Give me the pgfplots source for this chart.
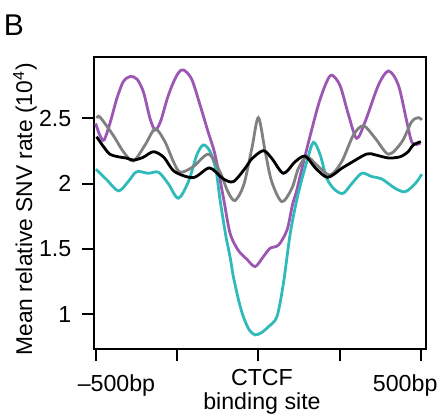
\documentclass[border=0pt]{standalone}
\usepackage{fontspec}
\setmainfont{Liberation Sans}
\usepackage{pgfplots}
\pgfplotsset{compat=1.18}
\definecolor{cpurple}{RGB}{155,87,178}
\definecolor{cteal}{RGB}{48,186,186}
\definecolor{cgray}{RGB}{128,128,128}
\begin{document}
\begin{tikzpicture}
\useasboundingbox (-47pt,-35pt) rectangle (174.5pt,174.5pt);
\begin{axis}[
  at={(0,0)}, anchor=south west,
  width=166pt, height=146pt, scale only axis,
  xmin=-505, xmax=515, ymin=0.734, ymax=2.969,
  axis line style={line width=1.1pt},
  every tick/.style={line width=1.1pt, black},
  tick align=outside, major tick length=6pt,
  xtick pos=bottom, ytick pos=left,
  /pgf/number format/assume math mode=true,
  tick label style={font=\fontsize{11.6}{11}\selectfont},
  xtick={-500,-250,0,250,500},
  xticklabels={,,{CTCF\\[0.8pt]binding site},,},
  xticklabel style={align=center, xshift=1.8pt, yshift=-0.6pt},
  extra x ticks={-436,451},
  extra x tick labels={--500bp,500bp},
  extra x tick style={major tick length=0pt, xticklabel style={yshift=-8.7pt, xshift=-1.8pt}},
  ytick={1,1.5,2,2.5}, yticklabels={1,1.5,2,2.5},
  yticklabel style={xshift=-1.8pt},
  ylabel={Mean relative SNV rate (10\textsuperscript{4})},
  ylabel style={at={(axis description cs:-0.1867,0.478)}, anchor=base, font=\fontsize{11.4}{11}\selectfont},
  clip=false,
]
\addplot[cpurple, line width=1.4pt, smooth] coordinates {
(-500,2.46) (-487,2.37) (-474,2.334) (-455,2.47) (-435,2.65) (-415,2.78) (-394,2.82) (-373,2.80) (-353,2.70) (-333,2.50) (-317,2.41)
(-300,2.48) (-280,2.65) (-262,2.77) (-245,2.85) (-230,2.87) (-205,2.80) (-179,2.60) (-155,2.40) (-133,2.22)
(-108,1.90) (-87,1.62) (-62,1.49) (-35,1.42) (-10,1.365) (15,1.44) (36,1.505) (62,1.53) (88,1.645) (105,1.84) (118,1.95) (144,2.219)
(184,2.60) (210,2.78) (226,2.83) (251,2.75) (277,2.525) (302,2.347) (328,2.474) (369,2.755) (400,2.862) (430,2.755) (456,2.474) (471,2.32) (487,2.30) (497,2.31)
};
\addplot[cteal, line width=1.4pt, smooth] coordinates {
(-499,2.11) (-466,2.03) (-430,1.944) (-400,2.015) (-374,2.091) (-338,2.079) (-307,2.087) (-277,2.0) (-246,1.888) (-215,2.015) (-189,2.22) (-169,2.296) (-148,2.244) (-130,2.10)
(-118,1.88) (-100,1.60) (-87,1.44) (-77,1.29) (-60,1.10) (-46,0.98) (-28,0.88) (-10,0.842) (10,0.86) (31,0.905) (57,0.982) (77,1.238) (98,1.62) (122,1.92) (149,2.17) (169,2.316)
(190,2.22) (210,2.04) (236,1.95) (261,1.926) (287,2.0) (318,2.079) (349,2.053) (379,2.036) (420,1.964) (451,1.938) (482,2.0) (502,2.072)
};
\addplot[cgray, line width=1.4pt, smooth] coordinates {
(-496,2.50) (-487,2.51) (-446,2.37) (-415,2.245) (-384,2.173) (-348,2.296) (-317,2.418) (-287,2.32) (-261,2.168) (-240,2.087) (-200,2.13) (-153,2.225) (-118,2.09) (-94,1.94) (-72,1.87) (-45,1.99) (-20,2.27) (0,2.505)
(21,2.244) (41,2.015) (72,1.862) (103,1.964) (123,2.117) (149,2.206) (179,2.143) (220,2.066) (256,2.168) (292,2.372) (323,2.443) (359,2.347) (400,2.225) (441,2.32) (471,2.474) (492,2.505) (502,2.487)
};
\addplot[black, line width=1.4pt, smooth] coordinates {
(-497,2.359) (-475,2.28) (-456,2.225) (-430,2.205) (-405,2.195) (-384,2.18) (-355,2.20) (-322,2.244) (-290,2.20) (-258,2.093) (-200,2.046) (-150,2.12) (-110,2.04) (-77,2.015)
(-40,2.12) (-20,2.19) (15,2.252) (41,2.194) (77,2.079) (113,2.168) (144,2.21) (175,2.12) (213,2.048) (256,2.117) (282,2.156) (333,2.227) (359,2.22) (400,2.196) (436,2.206) (460,2.244) (476,2.296) (499,2.321)
};
\end{axis}
\node[anchor=north west, inner sep=0pt, font=\fontsize{15}{15}\selectfont] at (-45.2pt,167.5pt) {B};
\end{tikzpicture}
\end{document}
